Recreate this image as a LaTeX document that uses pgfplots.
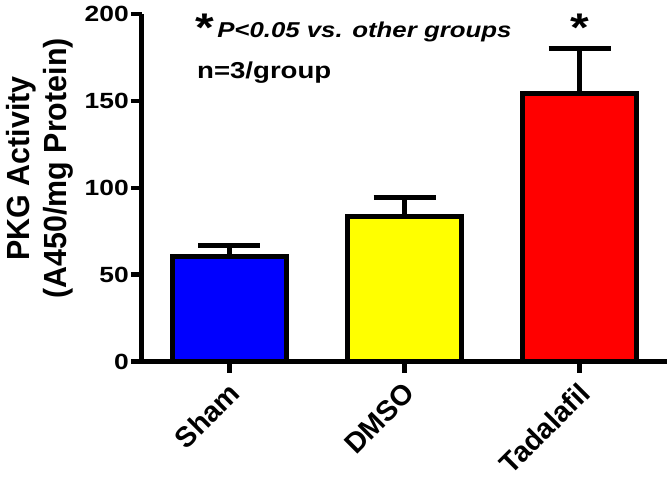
\documentclass[border=0pt]{standalone}
\usepackage{fontspec}
\setmainfont{Liberation Sans}
\newfontfamily\wide[FakeStretch=1.2]{Liberation Sans}
\newfontfamily\narrow[FakeStretch=0.95]{Liberation Sans}
\usepackage{pgfplots}
\pgfplotsset{compat=1.18}
\begin{document}
\begin{tikzpicture}
\begin{axis}[
  scale only axis,
  width=525pt, height=347.5pt,
  xmin=-0.5, xmax=2.5, ymin=0, ymax=200,
  axis x line=bottom, axis y line=left,
  axis line style={line width=5pt, -},
  clip=false,
  tick align=outside,
  major tick length=11pt,
  tick style={line width=4.5pt, black},
  ytick={0,50,100,150,200},
  xtick={0,1,2},
  xticklabels={Sham,DMSO,Tadalafil},
  /pgf/number format/assume math mode=true,
  yticklabel style={font=\wide\bfseries\fontsize{22}{22}\selectfont, inner sep=2pt},
  xticklabel style={font=\bfseries\fontsize{28.5}{28.5}\selectfont, inner sep=1pt,
     xshift=6pt, yshift=-15pt, rotate=45, anchor=east},
  ylabel={PKG Activity\\(A450/mg Protein)},
  ylabel style={at={(axis description cs:-0.194,0.556)}, anchor=center,
     align=center, font=\narrow\bfseries\fontsize{32}{37}\selectfont},
  bar width=0.65,
  error bars/y dir=plus,
  error bars/y explicit,
  error bars/error mark=|,
  error bars/error bar style={line width=5pt, black},
  error bars/error mark options={line width=5pt, black, mark size=31pt},
]
\addplot[ybar, bar shift=0pt, fill={rgb,255:red,0;green,0;blue,255}, draw=black, line width=5pt]
  coordinates {(0,60.7) +- (0,6.1)};
\addplot[ybar, bar shift=0pt, fill={rgb,255:red,255;green,255;blue,0}, draw=black, line width=5pt]
  coordinates {(1,83.2) +- (0,11.2)};
\addplot[ybar, bar shift=0pt, fill={rgb,255:red,255;green,0;blue,0}, draw=black, line width=5pt]
  coordinates {(2,154.5) +- (0,25.6)};
\coordinate (O) at (axis cs:-0.5,0);
\node[anchor=base, inner sep=0pt, font=\wide\bfseries\fontsize{40}{40}\selectfont] at (axis cs:-0.14,184) {*};
\node[anchor=base, inner sep=0pt, font=\wide\bfseries\fontsize{40}{40}\selectfont] at (axis cs:2.0,184) {*};
\node[anchor=base west, inner sep=0pt, font=\wide\bfseries\itshape\fontsize{21.5}{21.5}\selectfont] at (axis cs:-0.071,186.2) {P<0.05 vs. other groups};
\node[anchor=base west, inner sep=0pt, font=\wide\bfseries\fontsize{23}{23}\selectfont] at (axis cs:-0.186,162.6) {n=3/group};
\end{axis}
\pgfresetboundingbox
\path[use as bounding box] (O) ++(-142pt,-120.5pt) rectangle ++(672pt,482pt);
\end{tikzpicture}
\end{document}
